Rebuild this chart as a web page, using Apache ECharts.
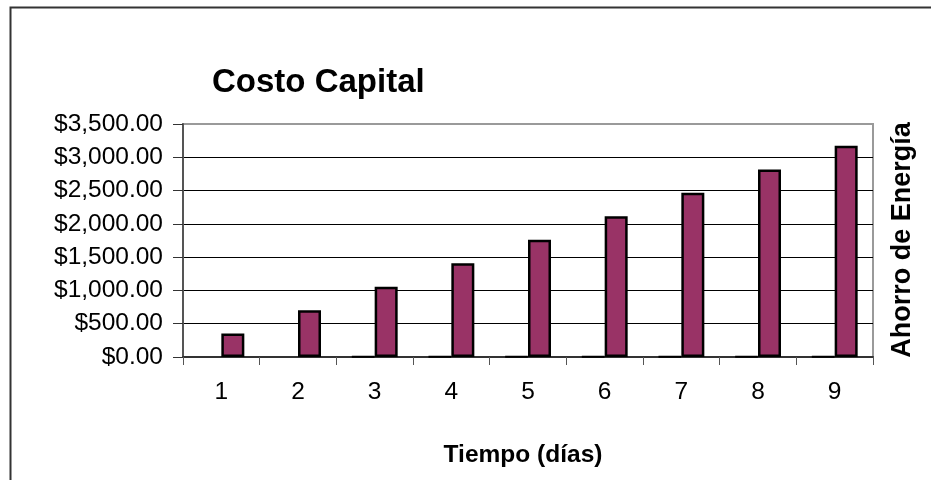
<!DOCTYPE html>
<html>
<head>
<meta charset="utf-8">
<script src="https://cdn.jsdelivr.net/npm/echarts@6/dist/echarts.min.js"></script>
<style>
html,body{margin:0;padding:0;background:#fff;}
#chart{width:931px;height:480px;}
</style>
</head>
<body>
<div id="chart"></div>
<script>
var categories = ['1','2','3','4','5','6','7','8','9'];
var smallSeries = [0, 0, 5, 5, 5, 5, 5, 5, 5];
var costoCapital = [352, 704, 1056, 1410, 1760, 2115, 2468, 2818, 3172];
var yTicks = [0, 500, 1000, 1500, 2000, 2500, 3000, 3500];

function money(v) {
  var s = Math.round(v).toString().replace(/\B(?=(\d{3})+(?!\d))/g, ',');
  return '$' + s + '.00';
}
var FONT = '"Liberation Sans", Arial, sans-serif';

var chart = echarts.init(document.getElementById('chart'), null, {renderer: 'canvas'});
chart.setOption({
  animation: false,
  backgroundColor: '#ffffff',
  title: {
    text: 'Costo Capital',
    left: 207, top: 61,
    textStyle: {fontFamily: FONT, fontSize: 33, fontWeight: 'bold', color: '#000'}
  },
  grid: {
    left: 183, right: 58, top: 124, bottom: 123,
    show: true, borderColor: '#9a9a9a', borderWidth: 2, backgroundColor: 'transparent'
  },
  xAxis: {
    type: 'category',
    data: categories,
    axisLine: {lineStyle: {color: '#333', width: 2}},
    axisTick: {show: true, length: 8, lineStyle: {color: '#555', width: 1}},
    axisLabel: {margin: 23, fontFamily: FONT, fontSize: 24.5, color: '#000'}
  },
  yAxis: {
    type: 'value',
    min: yTicks[0], max: yTicks[yTicks.length - 1], interval: 500,
    axisLine: {show: true, lineStyle: {color: '#555', width: 2}},
    axisTick: {show: true, length: 10, lineStyle: {color: '#333', width: 1}},
    axisLabel: {margin: 20, fontFamily: FONT, fontSize: 24.5, color: '#000', formatter: money},
    splitLine: {show: true, showMaxLine: false, lineStyle: {color: '#000', width: 1}}
  },
  series: [
    {
      type: 'bar',
      data: smallSeries.map(function (v) { return v === 0 ? null : v; }),
      barWidth: 23,
      barGap: '0%',
      itemStyle: {color: '#000080', borderColor: '#000', borderWidth: 2}
    },
    {
      type: 'bar',
      data: costoCapital,
      barWidth: 23,
      barGap: '0%',
      itemStyle: {color: '#993366', borderColor: '#000', borderWidth: 2.5}
    }
  ],
  graphic: [
    {
      type: 'rect', left: 8, top: 5, silent: true,
      shape: {width: 1000, height: 1000},
      style: {fill: 'none', stroke: '#333', lineWidth: 2}
    },
    {
      type: 'text', x: 523, y: 455,
      style: {text: 'Tiempo (días)', fontFamily: FONT, fontSize: 24.5, fontWeight: 'bold',
        fill: '#000', textAlign: 'center', textVerticalAlign: 'middle'}
    },
    {
      type: 'text', x: 903, y: 240, rotation: Math.PI / 2,
      style: {text: 'Ahorro de Energía', fontFamily: FONT, fontSize: 27, fontWeight: 'bold',
        fill: '#000', textAlign: 'center', textVerticalAlign: 'middle'}
    }
  ]
});
</script>
</body>
</html>
